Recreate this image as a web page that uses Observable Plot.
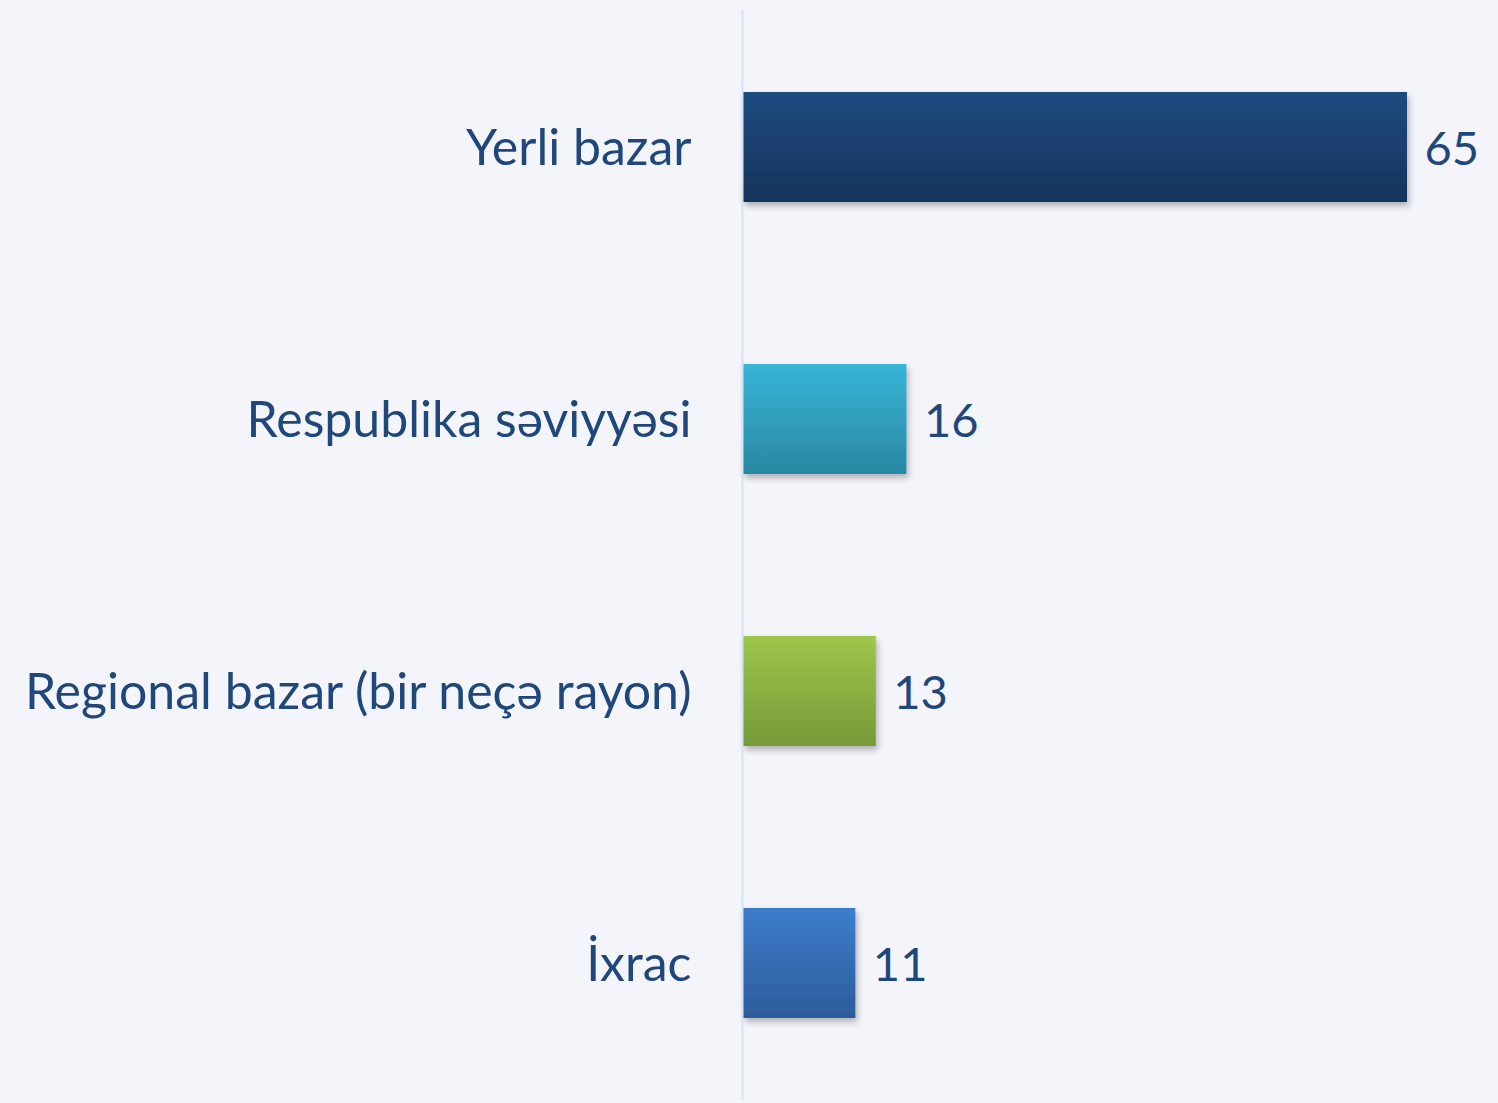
<!DOCTYPE html>
<html>
<head>
<meta charset="utf-8">
<script src="https://cdn.jsdelivr.net/npm/d3@7"></script>
<script src="https://cdn.jsdelivr.net/npm/@observablehq/plot@0.6"></script>
<style>
  html, body { margin: 0; padding: 0; background: #F4F5FB; }
  #chart svg { display: block; }
</style>
</head>
<body>
<div id="chart"></div>
<script>
const categories = ["Yerli bazar", "Respublika səviyyəsi", "Regional bazar (bir neçə rayon)", "İxrac"];
const values = [65, 16, 13, 11];
const gradientTop = ["#1F4B80", "#37B5D8", "#9EC64A", "#3D7DCC"];
const gradientBottom = ["#16335C", "#2A87A2", "#759A38", "#2C5C9A"];

const data = categories.map((c, i) => ({category: c, value: values[i], grad: `url(#grad${i})`}));

const FONT = "Lato, 'Open Sans', sans-serif";
const TEXT = "#1F477C";

function defsMark() {
  const ns = "http://www.w3.org/2000/svg";
  const defs = document.createElementNS(ns, "defs");
  categories.forEach((c, i) => {
    const lg = document.createElementNS(ns, "linearGradient");
    lg.setAttribute("id", `grad${i}`);
    lg.setAttribute("x1", "0"); lg.setAttribute("y1", "0");
    lg.setAttribute("x2", "0"); lg.setAttribute("y2", "1");
    const s1 = document.createElementNS(ns, "stop");
    s1.setAttribute("offset", "0"); s1.setAttribute("stop-color", gradientTop[i]);
    const s2 = document.createElementNS(ns, "stop");
    s2.setAttribute("offset", "1"); s2.setAttribute("stop-color", gradientBottom[i]);
    lg.appendChild(s1); lg.appendChild(s2);
    defs.appendChild(lg);
  });
  const f = document.createElementNS(ns, "filter");
  f.setAttribute("id", "barShadow");
  f.setAttribute("x", "-10%"); f.setAttribute("y", "-10%");
  f.setAttribute("width", "130%"); f.setAttribute("height", "140%");
  f.innerHTML = '<feDropShadow dx="2" dy="4" stdDeviation="3" flood-color="#000" flood-opacity="0.28"/>';
  defs.appendChild(f);
  const g = document.createElementNS(ns, "g");
  g.appendChild(defs);
  return g;
}

const chart = Plot.plot({
  width: 1498,
  height: 1103,
  marginLeft: 743,
  marginRight: 91,
  marginTop: 10,
  marginBottom: 3,
  style: {background: "#F4F5FB", fontFamily: FONT},
  x: {domain: [0, 65], axis: null},
  y: {domain: categories, paddingInner: 0.596, paddingOuter: 0.298, label: null},
  color: {type: "identity"},
  marks: [
    defsMark,
    Plot.barX(data, {x: "value", y: "category", fill: "grad", inset: 0}),
    Plot.ruleX([0], {stroke: "#D5E2F4", strokeWidth: 2, dx: -1}),
    Plot.axisY({tickSize: 0, tickPadding: 52, fontSize: 50, fill: TEXT, label: null, fontFamily: FONT, dy: 1}),
    Plot.text(data, {x: "value", y: "category", text: d => String(d.value), dx: 17, dy: 2, textAnchor: "start", fontSize: 47, fill: TEXT, fontFamily: FONT})
  ]
});

d3.select(chart).selectAll("g[aria-label='bar'] rect").attr("filter", "url(#barShadow)");
document.getElementById("chart").appendChild(chart);
</script>
</body>
</html>
